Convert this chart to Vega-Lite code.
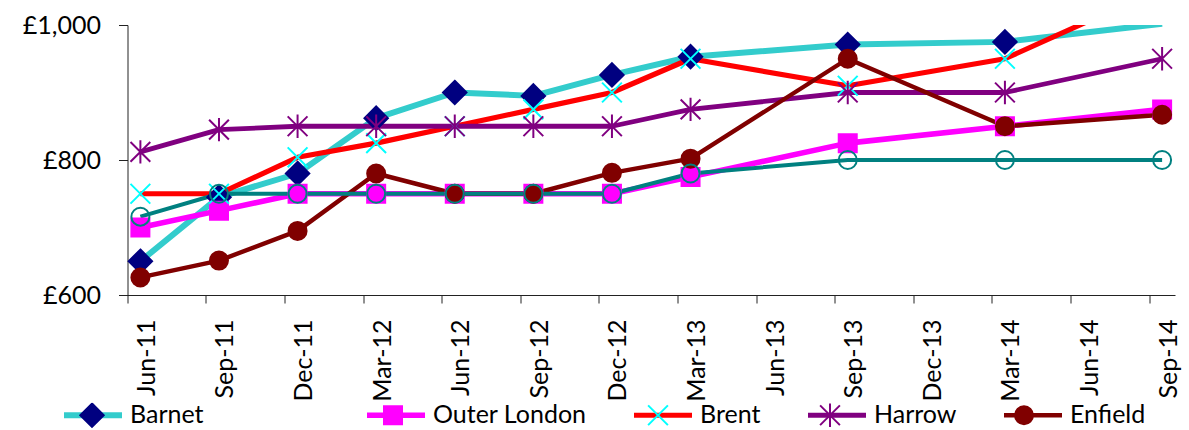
{
  "$schema": "https://vega.github.io/schema/vega-lite/v6.json",
  "autosize": {"type": "none"},
  "width": 1047.5,
  "height": 270,
  "padding": {"left": 127.5, "top": 25, "right": 14, "bottom": 135},
  "background": "white",
  "config": {
    "font": "Lato",
    "view": {"stroke": null},
    "axis": {"labelFont": "Lato", "labelFontSize": 25, "labelColor": "#000", "domainColor": "#222", "tickColor": "#222", "domainWidth": 1, "tickWidth": 1, "grid": false, "title": null},
    "legend": {"labelFont": "Lato", "labelFontSize": 25, "labelLimit": 0, "padding": 0, "columns": 5, "columnPadding": 44, "rowPadding": 30, "direction": "horizontal", "clipHeight": 25, "orient": "none", "legendX": -66.5, "legendY": 377.5, "title": null, "labelOffset": 5, "labelColor": "#000"}
  },
  "data": {
    "values": [
      {"q": "Jun-11", "series": "Barnet", "rent": 650},
      {"q": "Sep-11", "series": "Barnet", "rent": 745},
      {"q": "Dec-11", "series": "Barnet", "rent": 780},
      {"q": "Mar-12", "series": "Barnet", "rent": 862},
      {"q": "Jun-12", "series": "Barnet", "rent": 900},
      {"q": "Sep-12", "series": "Barnet", "rent": 895},
      {"q": "Dec-12", "series": "Barnet", "rent": 926},
      {"q": "Mar-13", "series": "Barnet", "rent": 953},
      {"q": "Sep-13", "series": "Barnet", "rent": 971},
      {"q": "Mar-14", "series": "Barnet", "rent": 975},
      {"q": "Sep-14", "series": "Barnet", "rent": 1002},
      {"q": "Jun-11", "series": "Outer London", "rent": 700},
      {"q": "Sep-11", "series": "Outer London", "rent": 725},
      {"q": "Dec-11", "series": "Outer London", "rent": 750},
      {"q": "Mar-12", "series": "Outer London", "rent": 750},
      {"q": "Jun-12", "series": "Outer London", "rent": 750},
      {"q": "Sep-12", "series": "Outer London", "rent": 750},
      {"q": "Dec-12", "series": "Outer London", "rent": 750},
      {"q": "Mar-13", "series": "Outer London", "rent": 775},
      {"q": "Sep-13", "series": "Outer London", "rent": 825},
      {"q": "Mar-14", "series": "Outer London", "rent": 850},
      {"q": "Sep-14", "series": "Outer London", "rent": 875},
      {"q": "Jun-11", "series": "Brent", "rent": 750},
      {"q": "Sep-11", "series": "Brent", "rent": 750},
      {"q": "Dec-11", "series": "Brent", "rent": 804},
      {"q": "Mar-12", "series": "Brent", "rent": 825},
      {"q": "Jun-12", "series": "Brent", "rent": 850},
      {"q": "Sep-12", "series": "Brent", "rent": 875},
      {"q": "Dec-12", "series": "Brent", "rent": 900},
      {"q": "Mar-13", "series": "Brent", "rent": 950},
      {"q": "Sep-13", "series": "Brent", "rent": 910},
      {"q": "Mar-14", "series": "Brent", "rent": 950},
      {"q": "Sep-14", "series": "Brent", "rent": 1055},
      {"q": "Jun-11", "series": "Harrow", "rent": 812},
      {"q": "Sep-11", "series": "Harrow", "rent": 845},
      {"q": "Dec-11", "series": "Harrow", "rent": 850},
      {"q": "Mar-12", "series": "Harrow", "rent": 850},
      {"q": "Jun-12", "series": "Harrow", "rent": 850},
      {"q": "Sep-12", "series": "Harrow", "rent": 850},
      {"q": "Dec-12", "series": "Harrow", "rent": 850},
      {"q": "Mar-13", "series": "Harrow", "rent": 875},
      {"q": "Sep-13", "series": "Harrow", "rent": 900},
      {"q": "Mar-14", "series": "Harrow", "rent": 900},
      {"q": "Sep-14", "series": "Harrow", "rent": 950},
      {"q": "Jun-11", "series": "Enfield", "rent": 626},
      {"q": "Sep-11", "series": "Enfield", "rent": 651},
      {"q": "Dec-11", "series": "Enfield", "rent": 695},
      {"q": "Mar-12", "series": "Enfield", "rent": 780},
      {"q": "Jun-12", "series": "Enfield", "rent": 750},
      {"q": "Sep-12", "series": "Enfield", "rent": 750},
      {"q": "Dec-12", "series": "Enfield", "rent": 781},
      {"q": "Mar-13", "series": "Enfield", "rent": 802},
      {"q": "Sep-13", "series": "Enfield", "rent": 950},
      {"q": "Mar-14", "series": "Enfield", "rent": 850},
      {"q": "Sep-14", "series": "Enfield", "rent": 867},
      {"q": "Jun-11", "series": "Hertsmere, Herts", "rent": 716},
      {"q": "Sep-11", "series": "Hertsmere, Herts", "rent": 750},
      {"q": "Dec-11", "series": "Hertsmere, Herts", "rent": 750},
      {"q": "Mar-12", "series": "Hertsmere, Herts", "rent": 750},
      {"q": "Jun-12", "series": "Hertsmere, Herts", "rent": 750},
      {"q": "Sep-12", "series": "Hertsmere, Herts", "rent": 750},
      {"q": "Dec-12", "series": "Hertsmere, Herts", "rent": 750},
      {"q": "Mar-13", "series": "Hertsmere, Herts", "rent": 780},
      {"q": "Sep-13", "series": "Hertsmere, Herts", "rent": 800},
      {"q": "Mar-14", "series": "Hertsmere, Herts", "rent": 800},
      {"q": "Sep-14", "series": "Hertsmere, Herts", "rent": 800}
    ]
  },
  "encoding": {
    "x": {
      "field": "q", "type": "ordinal",
      "scale": {"type": "point", "padding": 0.164, "domain": ["Jun-11","Sep-11","Dec-11","Mar-12","Jun-12","Sep-12","Dec-12","Mar-13","Jun-13","Sep-13","Dec-13","Mar-14","Jun-14","Sep-14"]},
      "axis": {"labelAngle": 270, "tickSize": 8, "tickOffset": -13, "labelOffset": 19, "labelPadding": 16}
    },
    "y": {
      "field": "rent", "type": "quantitative",
      "scale": {"domain": [600, 1000], "nice": false, "zero": false},
      "axis": {"values": [600, 800, 1000], "labelExpr": "'£' + format(datum.value, ',')", "tickSize": 9, "labelPadding": 18}
    }
  },
  "layer": [
    {
      "mark": {"type": "line", "clip": true, "strokeJoin": "round", "strokeCap": "butt"},
      "encoding": {
        "order": {"value": null},
        "color": {
          "field": "series", "type": "nominal",
          "scale": {"domain": ["Barnet", "Outer London", "Brent", "Harrow", "Enfield", "Hertsmere, Herts"], "range": ["#33CCCC", "#FF00FF", "#FF0000", "#800080", "#800000", "#008080"]},
          "legend": {"symbolType": "stroke", "symbolSize": 3364, "symbolStrokeWidth": 4}
        },
        "strokeWidth": {
          "field": "series", "type": "nominal",
          "scale": {"domain": ["Barnet", "Outer London", "Brent", "Harrow", "Enfield", "Hertsmere, Herts"], "range": [6, 4, 4, 4, 4, 4]},
          "legend": null
        }
      }
    },
    {
      "transform": [{"filter": "datum.rent <= 1000"}],
      "mark": {"type": "point", "size": 3600, "strokeWidth": 2, "opacity": 1},
      "encoding": {
        "shape": {
          "field": "series", "type": "nominal",
          "scale": {"domain": ["Barnet", "Outer London", "Brent", "Harrow", "Enfield", "Hertsmere, Herts", "zz"], "range": ["M0,-0.39L0.39,0L0,0.39L-0.39,0Z", "M-0.3,-0.3H0.3V0.3H-0.3Z", "M-0.33,-0.33L0.33,0.33M0.33,-0.33L-0.33,0.33", "M-0.33,-0.33L0.33,0.33M0.33,-0.33L-0.33,0.33M0,-0.39L0,0.39", "M0.3,0A0.3,0.3,0,1,1,-0.3,0A0.3,0.3,0,1,1,0.3,0Z", "M0.3,0A0.3,0.3,0,1,1,-0.3,0A0.3,0.3,0,1,1,0.3,0Z", "M0.3,0A0.3,0.3,0,1,1,-0.3,0A0.3,0.3,0,1,1,0.3,0Z"]},
          "legend": {"symbolSize": 3600, "symbolStrokeWidth": 2, "labelOpacity": 0}
        },
        "fill": {
          "field": "series", "type": "nominal",
          "scale": {"domain": ["Barnet", "Outer London", "Brent", "Harrow", "Enfield", "Hertsmere, Herts", "zz"], "range": ["#000080", "#FF00FF", "transparent", "transparent", "#800000", "transparent", "transparent"]},
          "legend": {"symbolSize": 3600, "symbolStrokeWidth": 2, "labelOpacity": 0}
        },
        "stroke": {
          "field": "series", "type": "nominal",
          "scale": {"domain": ["Barnet", "Outer London", "Brent", "Harrow", "Enfield", "Hertsmere, Herts", "zz"], "range": ["#000080", "#FF00FF", "#00FFFF", "#800080", "#800000", "#008080", "transparent"]},
          "legend": {"symbolSize": 3600, "symbolStrokeWidth": 2, "labelOpacity": 0}
        }
      }
    }
  ]
}
